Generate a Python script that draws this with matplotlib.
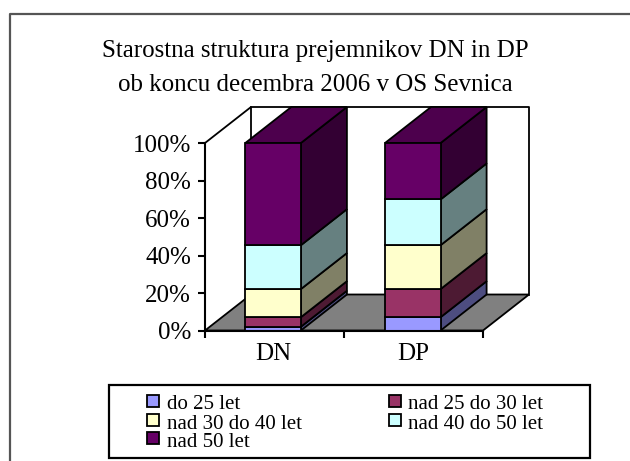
#!/usr/bin/env python3

import matplotlib
matplotlib.use('Agg')
import matplotlib.pyplot as plt
from matplotlib.patches import Polygon, Rectangle
from matplotlib.lines import Line2D

TITLE = 'Starostna struktura prejemnikov DN in DP\nob koncu decembra 2006 v OS Sevnica'
categories = ['DN', 'DP']
groups = ['do 25 let', 'nad 25 do 30 let', 'nad 30 do 40 let', 'nad 40 do 50 let', 'nad 50 let']
dn_values = [2.0, 5.1, 15.0, 23.4, 54.5]
dp_values = [7.1, 15.0, 23.4, 24.4, 30.1]
yticks = [0, 20, 40, 60, 80, 100]
ytick_labels = ['0%', '20%', '40%', '60%', '80%', '100%']

front_colors = ['#9999ff', '#993366', '#ffffcc', '#ccffff', '#660066']
side_colors = ['#4d4d80', '#4d1a33', '#808066', '#668080', '#330033']
top_color = '#4d004d'

W, H = 630, 461
# depth of the 3d box, in axis units (category / percent)
DX = 46 / 139
DY = 36 / 187.5 * 100
BAR_W = 0.4
BAR_POS = [0.49, 1.495]


def box_poly(ax, pts, fc, z, ec='black', lw=1.3):
    ax.add_patch(Polygon(pts, closed=True, fc=fc, ec=ec, lw=lw, zorder=z,
                         clip_on=False, joinstyle='miter'))


def plot_chart():
    plt.rcParams['font.family'] = ['Liberation Serif', 'DejaVu Serif']
    fig = plt.figure(figsize=(W / 100, H / 100), dpi=100)

    # outer frame, only left and top are on the picture
    fig.add_artist(Line2D([9.5 / W, 9.5 / W, 1], [0, 1 - 14.5 / H, 1 - 14.5 / H],
                          color='#555555', lw=1.6))

    line1, line2 = TITLE.split('\n')
    fig.text(315 / W, 1 - 57 / H, line1, ha='center', va='baseline', fontsize=18)
    fig.text(315 / W, 1 - 91 / H, line2, ha='center', va='baseline', fontsize=18)

    ax = fig.add_axes([205 / W, 1 - 330.5 / H, 278 / W, 187.5 / H])
    ax.set_xlim(0, 2)
    ax.set_ylim(0, 100)
    ax.patch.set_alpha(0)
    for s in ['top', 'right']:
        ax.spines[s].set_visible(False)
    for s in ['left', 'bottom']:
        ax.spines[s].set_linewidth(1.5)
        ax.spines[s].set_zorder(20)

    # walls and floor
    box_poly(ax, [(0, 0), (DX, DY), (2 + DX, DY), (2, 0)], '#808080', 1)
    ax.plot([0, DX, DX], [100, 100 + DY, DY], color='black', lw=1.3, clip_on=False, zorder=2)
    ax.plot([DX, 2 + DX, 2 + DX], [100 + DY, 100 + DY, DY], color='black', lw=1.3,
            clip_on=False, zorder=2)

    for pos, vals in zip(BAR_POS, [dn_values, dp_values]):
        x0 = pos - BAR_W / 2
        x1 = x0 + BAR_W
        bottom = 0
        for j, v in enumerate(vals):
            top = bottom + v
            ax.bar(pos, v, BAR_W, bottom=bottom, color=front_colors[j], edgecolor='black',
                   linewidth=1.3, zorder=6, clip_on=False)
            box_poly(ax, [(x1, bottom), (x1 + DX, bottom + DY), (x1 + DX, top + DY), (x1, top)],
                     side_colors[j], 5)
            bottom = top
        box_poly(ax, [(x0, bottom), (x1, bottom), (x1 + DX, bottom + DY), (x0 + DX, bottom + DY)],
                 top_color, 5)

    ax.set_yticks(yticks)
    ax.set_yticklabels(ytick_labels, fontsize=18)
    ax.set_xticks([0, 1, 2])
    ax.set_xticklabels([])
    ax.set_xticks(BAR_POS, categories, minor=True, fontsize=18)
    ax.tick_params(axis='x', which='minor', length=0, pad=9)
    ax.tick_params(axis='x', which='major', length=5, width=1.5)
    ax.tick_params(axis='y', length=5, pad=5, width=1.5)

    # legend box
    fig.add_artist(Rectangle((108.5 / W, 1 - 458 / H), 481 / W, 73 / H, fc='white', ec='black',
                             lw=1.6, transform=fig.transFigure))
    xs = [147, 388.5, 147, 388.5, 147]
    ys = [400.7, 400.7, 420, 420, 438]
    bases = [409, 409, 429, 429, 447]
    for g, c, x, y, b in zip(groups, front_colors, xs, ys, bases):
        fig.add_artist(Rectangle((x / W, 1 - (y + 6) / H), 12 / W, 12 / H, fc=c, ec='black',
                                 lw=1.3, transform=fig.transFigure))
        fig.text((x + 20) / W, 1 - b / H, g, ha='left', va='baseline', fontsize=15)

    fig.savefig('out.png', dpi=100)


def main():
    plot_chart()
    return 0


if __name__ == "__main__":
    exit(main())
